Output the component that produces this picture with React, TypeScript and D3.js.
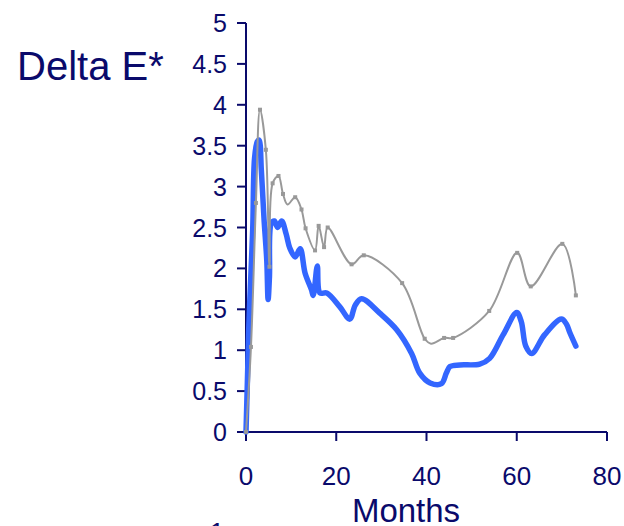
import React from "react";
import * as d3 from "d3";

const xTicks = [0, 20, 40, 60, 80];
const yTicks = [0, 0.5, 1, 1.5, 2, 2.5, 3, 3.5, 4, 4.5, 5];
const yTickLabels = ["0", "0.5", "1", "1.5", "2", "2.5", "3", "3.5", "4", "4.5", "5"];

const blueMonths = [0, 0.3, 0.6, 1.1, 1.5, 1.9, 2.5, 2.9, 3.4, 4.0, 4.6, 4.9, 5.2, 5.6, 6.3, 7.0, 7.9, 8.9, 9.7, 10.9, 12, 13.1, 14.5, 14.9, 15.8, 16.4, 17.9, 20.8, 23, 24.2, 25.6, 29.7, 33.4, 36.7, 38.5, 40.8, 43.3, 44.4, 45.2, 47.4, 51.8, 54, 57, 60, 61, 62, 63.3, 66.2, 69.9, 71.0, 71.8, 73.1];
const blueValues = [0, 0.6, 1.25, 1.95, 2.5, 3.35, 3.55, 3.57, 3.2, 2.6, 2.1, 1.62, 1.9, 2.55, 2.58, 2.5, 2.58, 2.42, 2.25, 2.14, 2.24, 1.94, 1.74, 1.67, 2.03, 1.7, 1.7, 1.53, 1.38, 1.55, 1.63, 1.45, 1.25, 0.96, 0.72, 0.6, 0.59, 0.72, 0.8, 0.82, 0.83, 0.9, 1.19, 1.46, 1.35, 1.05, 0.96, 1.19, 1.38, 1.32, 1.21, 1.05];

const grayMonths = [0, 1.1, 2.2, 3.1, 4.4, 5.2, 5.9, 7.2, 8.2, 9.2, 10.9, 12.3, 13.2, 15.3, 16.1, 17.3, 18.1, 23.4, 26.1, 34.6, 39.6, 41.0, 43.9, 45.9, 53.9, 60.1, 63.1, 70.1, 73.1];
const grayValues = [0, 1.04, 2.8, 3.94, 3.45, 2.02, 3.04, 3.13, 2.91, 2.78, 2.87, 2.72, 2.49, 2.22, 2.52, 2.26, 2.5, 2.05, 2.16, 1.82, 1.14, 1.08, 1.15, 1.15, 1.48, 2.19, 1.78, 2.3, 1.67];
const grayMarked = [1, 1, 1, 1, 1, 1, 1, 1, 1, 0, 1, 1, 1, 1, 1, 1, 1, 1, 1, 1, 1, 0, 1, 1, 1, 1, 1, 1, 1];

const NAVY = "#0a0a6b";

export default function App() {
  const x = d3.scaleLinear().domain([0, 80]).range([246, 607]);
  const y = d3.scaleLinear().domain([0, 5]).range([432, 23]);

  const blue = blueMonths.map((m, i) => [m, blueValues[i]] as [number, number]);
  const gray = grayMonths.map((m, i) => [m, grayValues[i]] as [number, number]);

  const line = d3
    .line<[number, number]>()
    .x((d) => x(d[0]))
    .y((d) => y(d[1]))
    .curve(d3.curveCatmullRom.alpha(0.5));

  const font = "'Liberation Sans', Arial, Helvetica, sans-serif";

  return (
    <svg
      width={624}
      height={526}
      style={{ position: "absolute", left: 0, top: 0, background: "#fff" }}
      fontFamily={font}
    >
      <rect x={0} y={0} width={624} height={526} fill="#fff" />
      <text x={17} y={80} fontSize={40} fill={NAVY}>
        Delta E*
      </text>

      {/* y axis */}
      <line x1={x(0)} x2={x(0)} y1={y(5)} y2={y(0)} stroke={NAVY} strokeWidth={2} />
      {yTicks.map((t, i) => (
        <g key={"y" + t}>
          <line x1={x(0) - 9} x2={x(0)} y1={y(t)} y2={y(t)} stroke={NAVY} strokeWidth={2} />
          <text
            x={227}
            y={y(t)}
            dy="0.36em"
            textAnchor="end"
            fontSize={25}
            fill={NAVY}
          >
            {yTickLabels[i]}
          </text>
        </g>
      ))}

      {/* x axis */}
      <line x1={x(0)} x2={x(80)} y1={y(0)} y2={y(0)} stroke={NAVY} strokeWidth={2} />
      {xTicks.map((t) => (
        <g key={"x" + t}>
          <line x1={x(t)} x2={x(t)} y1={y(0)} y2={y(0) + 9} stroke={NAVY} strokeWidth={2} />
          <text x={x(t)} y={485} textAnchor="middle" fontSize={26} fill={NAVY}>
            {t}
          </text>
        </g>
      ))}
      <text x={406} y={522} textAnchor="middle" fontSize={33} fill={NAVY}>
        Months
      </text>
      <text x={217} y={541} textAnchor="middle" fontSize={26} fill={NAVY}>
        1
      </text>

      {/* series */}
      <path d={line(blue) ?? ""} fill="none" stroke="#3366ff" strokeWidth={5.5} strokeLinejoin="round" strokeLinecap="round" />
      <path d={line(gray) ?? ""} fill="none" stroke="#999999" strokeWidth={2} strokeLinejoin="round" />
      {gray.map((d, i) =>
        grayMarked[i] ? (
          <rect key={"m" + i} x={x(d[0]) - 2} y={y(d[1]) - 2} width={4} height={4} fill="#999999" />
        ) : null
      )}
    </svg>
  );
}
